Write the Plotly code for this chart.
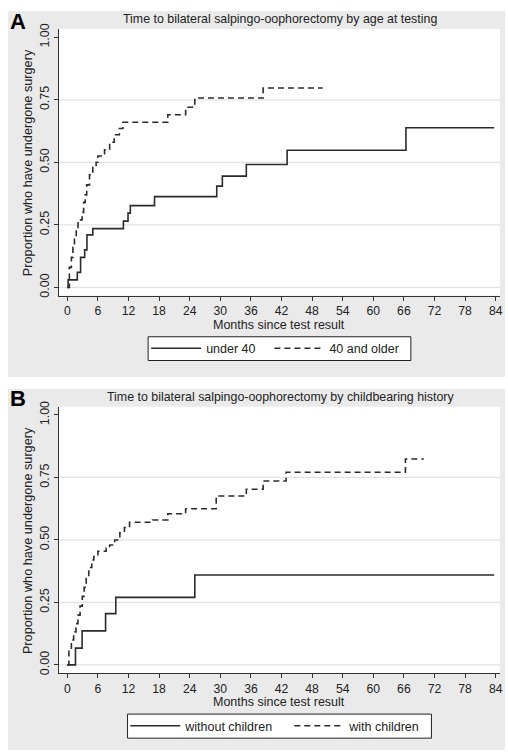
import plotly.graph_objects as go

# ---------------- data ----------------
month_ticks = [0, 6, 12, 18, 24, 30, 36, 42, 48, 54, 60, 66, 72, 78, 84]
prop_ticks = [0, 0.25, 0.5, 0.75, 1.0]
prop_ticktext = ["0.00", "0.25", "0.50", "0.75", "1.00"]
grid_levels = [0, 0.25, 0.5, 0.75]

# Panel A: by age at testing
a_under40_t = [0, 0.15, 1.96, 2.6, 3.4, 3.85, 5.0, 11.0, 11.9, 12.35, 17.1, 29.3, 30.4, 35.1, 43.1, 66.4, 83.7]
a_under40_s = [0, 0.03, 0.06, 0.12, 0.15, 0.21, 0.235, 0.265, 0.297, 0.327, 0.363, 0.405, 0.445, 0.491, 0.548, 0.638, 0.638]

a_40older_t = [0, 0.4, 0.8, 1.1, 1.4, 1.75, 2.1, 2.9, 3.2, 3.5, 3.8, 4.35, 5.0, 5.65, 6.0, 7.3, 8.3,
               9.2, 10.2, 10.9, 19.7, 23.2, 25.0, 38.4, 50.1]
a_40older_s = [0, 0.08, 0.12, 0.16, 0.20, 0.24, 0.27, 0.30, 0.34, 0.37, 0.41, 0.45, 0.48, 0.50, 0.525, 0.55, 0.58,
               0.61, 0.635, 0.66, 0.69, 0.72, 0.757, 0.797, 0.797]

# Panel B: by childbearing history
b_nochild_t = [0, 1.6, 2.9, 7.5, 9.5, 25.0, 83.7]
b_nochild_s = [0, 0.067, 0.136, 0.205, 0.27, 0.36, 0.36]

b_child_t = [0, 0.31, 0.8, 1.24, 1.7, 2.08, 2.5, 2.94, 3.3, 3.7, 4.2, 4.8, 5.2, 6.0, 7.6, 8.3, 9.3, 10.3,
             11.2, 12.2, 16.7, 19.7, 23.2, 29.2, 35.1, 38.4, 42.9, 66.3, 69.9]
b_child_s = [0, 0.063, 0.10, 0.132, 0.165, 0.199, 0.235, 0.274, 0.31, 0.353, 0.39, 0.42, 0.434, 0.455, 0.467,
             0.48, 0.50, 0.53, 0.55, 0.571, 0.58, 0.605, 0.625, 0.676, 0.703, 0.736, 0.771, 0.824, 0.824]

title_a = "Time to bilateral salpingo-oophorectomy by age at testing"
title_b = "Time to bilateral salpingo-oophorectomy by childbearing history"
x_title = "Months since test result"
y_title = "Proportion who have undergone surgery"

# ---------------- figure ----------------
W, H = 508, 755
FONT = "Liberation Sans, Arial, sans-serif"
LINE = "#2b2b2b"
DASH = "6px,4px"


def py(px):
    return 1 - px / H


def pxx(px):
    return px / W


fig = go.Figure()

fig.add_trace(go.Scatter(x=a_under40_t, y=a_under40_s, mode="lines", line=dict(color=LINE, width=1.6, shape="hv"),
                         name="under 40", xaxis="x", yaxis="y", legend="legend", showlegend=True))
fig.add_trace(go.Scatter(x=a_40older_t, y=a_40older_s, mode="lines",
                         line=dict(color=LINE, width=1.6, shape="hv", dash=DASH),
                         name="40 and older", xaxis="x", yaxis="y", legend="legend2", showlegend=True))
fig.add_trace(go.Scatter(x=b_nochild_t, y=b_nochild_s, mode="lines", line=dict(color=LINE, width=1.6, shape="hv"),
                         name="without children", xaxis="x2", yaxis="y2", legend="legend3", showlegend=True))
fig.add_trace(go.Scatter(x=b_child_t, y=b_child_s, mode="lines",
                         line=dict(color=LINE, width=1.6, shape="hv", dash=DASH),
                         name="with children", xaxis="x2", yaxis="y2", legend="legend4", showlegend=True))

xdom = [pxx(59), pxx(503)]
ydom_a = [py(292.7), py(23.3)]
ydom_b = [py(674.3), py(405)]

xaxis_common = dict(range=[-1.7, 84.85], tickvals=month_ticks, ticks="outside", ticklen=4, tickwidth=1,
                    tickcolor="#333", showline=True, linecolor="#333", linewidth=1, showgrid=False,
                    zeroline=False, tickfont=dict(size=12.2, color="#222", family=FONT), domain=xdom,
                    fixedrange=True)
yaxis_common = dict(range=[-0.033, 1.033], tickvals=prop_ticks, ticktext=prop_ticktext, ticks="outside",
                    ticklen=4, tickwidth=1, tickcolor="#333", showline=True, linecolor="#333", linewidth=1,
                    showgrid=False, zeroline=False, tickangle=-90, fixedrange=True,
                    tickfont=dict(size=12.5, color="#222", family=FONT))

legend_common = dict(xanchor="left", yanchor="middle", orientation="h", bgcolor="rgba(0,0,0,0)",
                     borderwidth=0, font=dict(size=12.5, family=FONT, color="#222"), itemwidth=50,
                     visible=True)

fig.update_layout(
    width=W, height=H,
    margin=dict(l=0, r=0, t=0, b=0),
    paper_bgcolor="white",
    plot_bgcolor="white",
    showlegend=True,
    font=dict(family=FONT, color="#222"),
    xaxis=dict(**xaxis_common, anchor="y"),
    yaxis=dict(**yaxis_common, domain=ydom_a, anchor="x"),
    xaxis2=dict(**xaxis_common, anchor="y2"),
    yaxis2=dict(**yaxis_common, domain=ydom_b, anchor="x2"),
    legend=dict(**legend_common, x=pxx(147), y=py(346.3)),
    legend2=dict(**legend_common, x=pxx(271), y=py(346.3)),
    legend3=dict(**legend_common, x=pxx(126), y=py(727.8)),
    legend4=dict(**legend_common, x=pxx(291), y=py(727.8)),
)

shapes = []
# grey panel backgrounds
shapes.append(dict(type="rect", xref="paper", yref="paper", x0=pxx(8), x1=1, y0=py(375), y1=py(5),
                   fillcolor="#eaeaea", line=dict(width=0), layer="below"))
shapes.append(dict(type="rect", xref="paper", yref="paper", x0=pxx(8), x1=1, y0=py(752), y1=py(387),
                   fillcolor="#eaeaea", line=dict(width=0), layer="below"))
# white plot regions
shapes.append(dict(type="rect", xref="paper", yref="paper", x0=xdom[0], x1=xdom[1], y0=ydom_a[0], y1=ydom_a[1],
                   fillcolor="white", line=dict(width=0), layer="below"))
shapes.append(dict(type="rect", xref="paper", yref="paper", x0=xdom[0], x1=xdom[1], y0=ydom_b[0], y1=ydom_b[1],
                   fillcolor="white", line=dict(width=0), layer="below"))
# legend boxes
shapes.append(dict(type="rect", xref="paper", yref="paper", x0=pxx(149), x1=pxx(413.3), y0=py(358.3),
                   y1=py(334.3), fillcolor="white", line=dict(color="#222", width=1), layer="below"))
shapes.append(dict(type="rect", xref="paper", yref="paper", x0=pxx(128.3), x1=pxx(434), y0=py(740),
                   y1=py(715.7), fillcolor="white", line=dict(color="#222", width=1), layer="below"))
# horizontal gridlines
for yref in ["y", "y2"]:
    xr = "x domain" if yref == "y" else "x2 domain"
    for g in grid_levels:
        shapes.append(dict(type="line", xref=xr, yref=yref, x0=0, x1=1, y0=g, y1=g,
                           line=dict(color="#e2e2e2", width=1.2), layer="below"))
fig.update_layout(shapes=shapes)

ann = []
# panel letters
ann.append(dict(text="<b>A</b>", x=pxx(8), y=py(16), xref="paper", yref="paper", xanchor="left", yanchor="middle",
                showarrow=False, font=dict(size=22, color="black", family=FONT)))
ann.append(dict(text="<b>B</b>", x=pxx(8), y=py(397), xref="paper", yref="paper", xanchor="left", yanchor="middle",
                showarrow=False, font=dict(size=22, color="black", family=FONT)))
# titles
ann.append(dict(text=title_a, x=pxx(282), y=py(13.5), xref="paper", yref="paper", xanchor="center",
                yanchor="middle", showarrow=False, font=dict(size=12.4, color="#222", family=FONT)))
ann.append(dict(text=title_b, x=pxx(282), y=py(395), xref="paper", yref="paper", xanchor="center",
                yanchor="middle", showarrow=False, font=dict(size=12.4, color="#222", family=FONT)))
# x titles
ann.append(dict(text=x_title, x=pxx(281), y=py(322), xref="paper", yref="paper", xanchor="center",
                yanchor="middle", showarrow=False, font=dict(size=12.5, color="#222", family=FONT)))
ann.append(dict(text=x_title, x=pxx(281), y=py(703.5), xref="paper", yref="paper", xanchor="center",
                yanchor="middle", showarrow=False, font=dict(size=12.5, color="#222", family=FONT)))
# y titles
ann.append(dict(text=y_title, x=pxx(28), y=py(158), xref="paper", yref="paper", xanchor="center",
                yanchor="middle", showarrow=False, textangle=-90, font=dict(size=12.7, color="#222", family=FONT)))
ann.append(dict(text=y_title, x=pxx(28), y=py(540), xref="paper", yref="paper", xanchor="center",
                yanchor="middle", showarrow=False, textangle=-90, font=dict(size=12.7, color="#222", family=FONT)))
fig.update_layout(annotations=ann)

fig.write_html(
    "out.html",
    config={"displayModeBar": False},
    post_script="document.body.style.margin='0';document.body.style.padding='0';"
                "document.documentElement.style.overflow='hidden';",
)
